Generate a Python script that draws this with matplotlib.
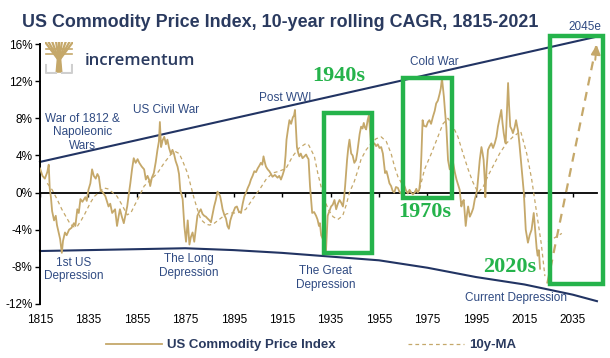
import matplotlib.pyplot as plt
from matplotlib.patches import Rectangle, Polygon

plt.rcParams['font.family'] = ['Liberation Sans', 'DejaVu Sans']

# US Commodity Price Index, 10y rolling CAGR (%)
years = [1815, 1816, 1817, 1818, 1818.6, 1819, 1819.5, 1820, 1820.8, 1821.5, 1822, 1822.7, 1823.3, 1824,
         1824.5, 1825.3, 1826, 1827, 1828, 1829, 1829.6, 1830.4, 1831, 1831.7, 1832.5, 1833.7, 1834.3, 1835,
         1835.8, 1836.5, 1837.2, 1838, 1838.7, 1839.3, 1840, 1841, 1842, 1842.7, 1843.3, 1844, 1844.8, 1846,
         1846.8, 1847.5, 1848, 1848.8, 1849.6, 1850.3, 1851, 1851.6, 1852.3, 1853, 1853.7, 1854.5, 1855.3,
         1856, 1857, 1858, 1858.7, 1859.4, 1860, 1860.5, 1861.2, 1862, 1862.8, 1863.5, 1864.1, 1864.5, 1865,
         1865.6, 1866.3, 1867, 1867.6, 1868.3, 1869, 1869.7, 1870.3, 1871, 1871.8, 1872.4, 1872.9, 1873.9,
         1874.6, 1875.3, 1875.7, 1876, 1876.7, 1877.3, 1878, 1878.7, 1879.3, 1880, 1880.7, 1881.4, 1882.1,
         1882.8, 1883.5, 1884.2, 1885, 1885.6, 1886.3, 1886.9, 1887.6, 1888.3, 1889, 1889.4, 1890, 1890.4,
         1891.1, 1891.8, 1892.4, 1893, 1893.6, 1894.2, 1895, 1895.6, 1896.3, 1897, 1898, 1898.7, 1899.4,
         1900.1, 1900.8, 1901.5, 1902.1, 1902.8, 1903.5, 1904.2, 1904.9, 1905.6, 1906.2, 1906.8, 1907.3,
         1907.8, 1908.3, 1909, 1909.7, 1910.4, 1911, 1912, 1913.1, 1913.8, 1914.5, 1915.2, 1915.9, 1916.4,
         1916.8, 1917.4, 1918, 1918.7, 1919.4, 1919.9, 1920.3, 1920.7, 1921.1, 1921.6, 1922.1, 1922.7, 1923.4,
         1924.2, 1924.9, 1925.4, 1925.9, 1926.5, 1927.4, 1928.2, 1929, 1929.6, 1930.2, 1930.6, 1931.1, 1931.8,
         1932.5, 1932.8, 1933.1, 1933.8, 1934.5, 1935.2, 1935.9, 1936.6, 1937.3, 1938, 1938.7, 1939.4, 1940.1,
         1940.6, 1941, 1941.8, 1942.3, 1942.8, 1943.5, 1944.1, 1944.8, 1945.5, 1946, 1946.5, 1947, 1947.6,
         1948.2, 1948.7, 1949.2, 1949.7, 1950.3, 1950.8, 1951.3, 1951.7, 1952.4, 1953.1, 1953.8, 1954.5,
         1955.2, 1955.9, 1956.6, 1957.1, 1957.5, 1958.1, 1958.6, 1959.3, 1960, 1960.6, 1961.3, 1962, 1962.8,
         1963.4, 1964.1, 1964.8, 1965.5, 1966.2, 1966.9, 1967.6, 1968.3, 1969, 1969.7, 1970.4, 1971, 1971.6,
         1972.1, 1972.5, 1973, 1973.5, 1974.5, 1975.2, 1975.8, 1976.5, 1977.3, 1978, 1978.6, 1979.3, 1980,
         1980.5, 1981, 1981.4, 1981.8, 1982.3, 1982.8, 1983.2, 1983.5, 1984.2, 1984.9, 1985.6, 1986.3, 1987,
         1987.6, 1988.3, 1989, 1989.5, 1990, 1990.8, 1991.3, 1991.8, 1992.5, 1993.2, 1993.9, 1994.5, 1995,
         1995.5, 1996, 1996.6, 1997.3, 1997.8, 1998.2, 1998.7, 1998.9, 1999.4, 2000, 2000.7, 2001.4, 2002.1,
         2002.8, 2003.5, 2004.1, 2004.8, 2005.5, 2006, 2006.5, 2007, 2007.3, 2007.8, 2008.3, 2008.7, 2009.2,
         2009.8, 2010.3, 2011, 2011.6, 2012, 2012.4, 2013, 2013.7, 2014.3, 2014.8, 2015.2, 2015.6, 2016.1,
         2016.5, 2017.2, 2018, 2018.5, 2018.9, 2019.3, 2019.7, 2020.1, 2020.5, 2021, 2021.5]
cagr = [2.6, 1.8, 1.5, 2.2, 3.0, 0.5, -0.5, -2.0, -3.0, -2.5, -3.5, -4.3, -5.0, -6.5,
        -5.2, -4.3, -4.6, -4.0, -3.8, -3.3, -3.6, -1.8, -2.2, -0.7, -1.0, -0.5, -0.9, 0.3,
        1.0, 2.5, 1.8, 1.5, 2.0, 1.7, 0.3, 0.0, -0.4, -1.0, -1.5, -1.2, -2.2, -1.8,
        -3.6, -2.5, -1.8, -2.6, -3.3, -2.4, -1.5, -0.3, 1.0, 2.5, 3.7, 3.2, 3.6,
        3.2, 2.8, 2.5, 1.4, 1.8, 1.4, 0.7, 1.6, 2.1, 3.3, 4.6, 5.5, 7.6, 4.9,
        5.6, 6.0, 5.2, 5.7, 4.8, 4.2, 4.6, 4.2, 3.4, 2.8, 2.0, 0.3, -0.7,
        -3.6, -5.3, -4.0, -3.0, -5.6, -4.8, -4.3, -5.3, -4.0, -2.5, -2.1, -1.8, -2.3,
        -2.5, -2.6, -2.8, -3.0, -3.2, -2.3, -1.5, -0.8, 0.1, -0.2, -0.4, -1.2, -1.8,
        -2.4, -2.8, -3.6, -3.9, -3.0, -2.5, -2.0, -1.6, -1.5, -2.0, -2.2, -1.2, -0.4,
        0.0, 0.5, 0.9, 1.4, 1.8, 2.3, 2.2, 2.6, 2.9, 3.2, 3.0, 3.9,
        3.3, 2.8, 2.5, 2.3, 2.0, 1.7, 1.9, 1.6, 1.8, 1.4, 1.9, 2.5, 4.0,
        5.7, 6.8, 7.8, 7.4, 8.1, 8.3, 8.9, 7.0, 4.9, 4.3, 3.9, 4.2, 3.7,
        3.9, 4.1, 3.8, 3.6, 0.7, -2.2, -2.1, -2.5, -2.9, -3.6, -3.3, -4.6, -5.0,
        -5.7, -4.3, -6.3, -2.5, -2.0, -1.5, -1.3, -0.8, -1.8, -1.2, -0.8, -1.1, -1.5,
        -0.5, 0.7, 3.5, 4.8, 5.7, 4.2, 4.0, 3.2, 3.5, 4.3, 5.3, 6.3, 7.1,
        6.9, 7.5, 7.0, 6.8, 7.8, 8.3, 6.6, 5.3, 5.1, 5.3, 5.0, 5.2,
        4.8, 4.9, 4.2, 3.0, 2.1, 2.3, 1.8, 1.0, 0.7, 0.2, 0.0, 0.6, 0.5,
        0.1, -0.1, 0.4, 0.7, 0.2, -0.1, 0.3, 0.0, -0.2, 0.0, 0.4, 0.0, 0.3,
        1.5, 4.0, 7.8, 7.2, 7.1, 7.6, 7.8, 7.4, 8.2, 8.8, 9.6, 9.9, 10.6,
        11.2, 12.3, 11.3, 10.3, 8.6, 7.1, 5.0, 3.5, 2.5, 2.9, 3.2, 2.2, 1.4,
        0.9, 0.3, -1.5, -1.0, -0.8, -3.6, -2.4, -1.5, -2.6, -2.2, -1.7, -0.8, -0.3,
        0.3, 1.8, 3.5, 4.9, 4.2, 3.5, 1.2, -0.5, 2.5, 4.6, 5.0, 5.3, 4.8,
        5.3, 6.0, 7.1, 8.0, 8.9, 7.5, 6.4, 5.6, 5.3, 8.5, 11.8, 9.4, 7.1,
        6.8, 6.4, 7.0, 7.8, 7.2, 6.7, 5.2, 3.2, 1.5, 0.0, -2.0, -4.0, -4.8,
        -5.4, -4.6, -4.0, -3.0, -2.2, -3.5, -4.7, -6.0, -6.8, -6.2, -8.2]

# 10y moving average (%)
ma_years = [1818, 1820, 1822, 1824, 1825.5, 1827.5, 1829, 1830.5, 1832, 1833.5, 1835.8, 1837.5, 1839.3,
            1841.3, 1843, 1844.5, 1846.8, 1849, 1851, 1852.5, 1854, 1856, 1858, 1860.8, 1863.5, 1866.3,
            1869, 1871, 1872.5, 1873.9, 1875.9, 1877.3, 1878.7, 1880, 1881.4, 1883.5, 1885, 1886.5, 1888.5,
            1890.5, 1892, 1894, 1896, 1898, 1900, 1902.8, 1905.6, 1908.3, 1911, 1913.8, 1916.6, 1919.3,
            1922, 1924.9, 1926, 1928.3, 1929.7, 1931, 1932.4, 1934, 1936, 1938, 1940, 1941.5, 1942.8,
            1944.8, 1946.5, 1947.6, 1949.7, 1951.8, 1953.8, 1955.9, 1958, 1960, 1961.4, 1962.8, 1965,
            1967, 1969.5, 1971.7, 1973.8, 1976.6, 1979.3, 1981.4, 1983.5, 1985.6, 1987.6, 1989.7, 1991.8,
            1993.8, 1995.9, 1998, 2000, 2002, 2004.8, 2007.6, 2010.3, 2012.4, 2013.5, 2016, 2018, 2020,
            2022, 2023.5]
ma_vals = [1.0, 0.3, -0.7, -1.8, -2.5, -3.4, -3.7, -3.6, -3.0, -2.3, -1.1, -0.4, 0.0,
           0.5, 0.4, 0.1, -0.4, -1.4, -2.4, -2.2, -1.4, -0.4, 0.7, 1.4, 2.1, 3.2,
           4.1, 4.4, 4.2, 3.4, 2.1, 0.7, -0.7, -1.8, -2.9, -3.4, -3.5, -3.4, -3.0,
           -2.6, -2.3, -2.2, -2.2, -2.1, -1.8, -0.7, 0.3, 1.4, 2.1, 2.3, 2.6, 3.9,
           4.8, 5.3, 5.1, 3.9, 2.1, 0.7, -0.7, -1.8, -2.6, -2.9, -2.5, -1.3, 0.0,
           1.2, 2.6, 3.6, 4.6, 5.3, 5.8, 6.0, 5.5, 4.2, 2.8, 1.7, 0.7,
           0.1, 0.0, 0.3, 2.5, 4.2, 6.0, 7.4, 8.0, 7.1, 6.0, 4.2, 2.5,
           1.1, 0.0, 0.6, 1.8, 2.8, 4.2, 5.3, 6.0, 6.4, 6.6, 4.2, 1.5, -2.0,
           -5.5, -9.0]

# projection to 2045
proj_years = [2024.5, 2045]
proj_vals = [-9.8, 16.2]
side_years = [2024.8, 2030.5]
side_vals = [-5.3, -4.4]

# trend channel
upper_years = [1815, 2045]
upper_vals = [3.3, 16.8]
lower_years = [1815, 1835, 1855, 1875, 1895, 1915, 1935, 1955, 1975, 1995, 2015, 2035, 2045]
lower_vals = [-6.3, -6.2, -6.1, -6.0, -6.2, -6.5, -6.9, -7.3, -8.1, -9.1, -9.9, -11.0, -11.7]

# highlighted decades: (x0, x1, y0, y1)
boxes = [(1932.4, 1951.9, -6.5, 8.6), (1965.1, 1985.0, -0.6, 12.3), (2025.5, 2047.4, -9.8, 16.85)]

gold = '#c5a86a'
navy = '#223463'
label_c = '#2f4a82'
green = '#25b34b'

fig = plt.figure(figsize=(6.1, 3.58), dpi=100)
ax = fig.add_axes([0.0656, 0.151, 0.913, 0.726])

ax.plot(upper_years, upper_vals, color=navy, lw=1.5, clip_on=False, zorder=2)
ax.plot(lower_years, lower_vals, color=navy, lw=1.5, clip_on=False, zorder=2)

l1, = ax.plot(years, cagr, color=gold, lw=1.3, zorder=4, label='US Commodity Price Index')
l2, = ax.plot(ma_years, ma_vals, color=gold, lw=0.9, ls=(0, (3, 2.5)), zorder=3, label='10y-MA')
ax.plot(proj_years, proj_vals, color=gold, lw=1.6, ls=(0, (4, 3)), clip_on=False, zorder=3)
ax.plot(side_years, side_vals, color=gold, lw=0.9, ls=(0, (3, 2.5)), zorder=3)
ax.annotate('', xy=(proj_years[1], proj_vals[1]), xytext=(2044.2, 14.0),
            arrowprops=dict(arrowstyle='-|>', color=gold, lw=1.4, mutation_scale=14),
            annotation_clip=False, zorder=3)

for x0, x1, y0, y1 in boxes:
    ax.add_patch(Rectangle((x0, y0), x1 - x0, y1 - y0, fill=False, ec=green, lw=3.2,
                           clip_on=False, zorder=5))

ax.set_xlim(1815, 2045)
ax.set_ylim(-12, 16)
ax.set_yticks(range(-12, 17, 4))
ax.set_yticklabels([f'{v}%' for v in range(-12, 17, 4)], fontsize=8.5)
ax.set_xticks(range(1815, 2036, 20))
ax.set_xticklabels([str(y) for y in range(1815, 2036, 20)], fontsize=8.5)
ax.tick_params(axis='x', length=0, pad=7)
ax.tick_params(axis='y', length=3.5, width=1, pad=2)
for s in ['top', 'right', 'bottom']:
    ax.spines[s].set_visible(False)
ax.spines['left'].set_linewidth(1.4)

zero = ax.secondary_xaxis(0, transform=ax.transData)
zero.set_xticks(range(1815, 2036, 20))
zero.tick_params(length=3, width=1, direction='out', labelbottom=False)
zero.spines['bottom'].set_linewidth(1.3)

notes = [
    ('War of 1812 &\nNapoleonic\nWars', 1832.4, 6.5),
    ('US Civil War', 1867, 8.85),
    ('Post WWI', 1916.3, 10.2),
    ('Cold War', 1978, 14.1),
    ('2045e', 2040, 17.8),
    ('1st US\nDepression', 1829, -8.3),
    ('The Long\nDepression', 1876.6, -7.9),
    ('The Great\nDepression', 1932.9, -9.2),
    ('Current Depression', 2011.4, -11.4),
]
for txt, x, y in notes:
    ax.text(x, y, txt, ha='center', va='center', fontsize=8.5, color=label_c,
            linespacing=1.15, clip_on=False, zorder=6)

decades = [('1940s', 1938.2, 12.6), ('1970s', 1973.8, -2.1), ('2020s', 2009, -8.0)]
for txt, x, y in decades:
    ax.text(x, y, txt, ha='center', va='center', fontsize=16, color=green,
            family='Liberation Serif', fontweight='bold', zorder=6)

fig.text(22 / 610, 1 - 22.7 / 358, 'US Commodity Price Index, 10-year rolling CAGR, 1815-2021',
         ha='left', va='center', fontsize=12.9, fontweight='bold', color='#2a3a5f')

# incrementum logo
fig.text(85 / 610, 1 - 61 / 358, 'incrementum', ha='left', va='center', fontsize=12.2,
         color='#2a3a5f', family='Open Sans', fontweight='semibold')
lg = fig.add_axes([45 / 610, 1 - 74 / 358, 28 / 610, 32 / 358])
lg.set_xlim(0, 1)
lg.set_ylim(0, 1)
lg.axis('off')
lg.plot([0.03, 0.03, 0.38], [0.28, 0.03, 0.03], color='#cfcfcf', lw=1.5)
lg.plot([0.62, 0.97, 0.97], [0.03, 0.03, 0.28], color='#cfcfcf', lw=1.5)
lg.add_patch(Polygon([(0.4, 0.06), (0.6, 0.06), (0.56, 0.45), (0.44, 0.45)], color=gold))
for bx in [0.02, 0.14, 0.27, 0.4, 0.5, 0.6, 0.73, 0.86, 0.98]:
    lg.plot([0.5, bx], [0.42, 0.98], color=gold, lw=1.6)
for by in [0.62, 0.78]:
    lg.plot([0.05, 0.95], [by, by], color=gold, lw=1.2)

fig.legend(handles=[l1, l2], loc='center', bbox_to_anchor=(0.51, 1 - 345 / 358), ncol=2,
           frameon=False, handlelength=4.2, handletextpad=0.4, columnspacing=5.5,
           prop={'size': 9.5, 'weight': 'bold'}, labelcolor='#2a3a5f')

fig.savefig('out.png', dpi=100)
